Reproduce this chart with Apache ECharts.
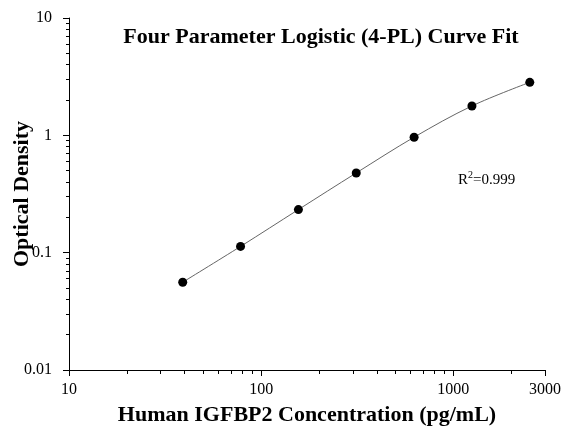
<!DOCTYPE html>
<html>
<head>
<meta charset="utf-8">
<script src="https://cdn.jsdelivr.net/npm/echarts@6/dist/echarts.min.js"></script>
<style>html,body{margin:0;padding:0;background:#fff;}#c{width:565px;height:430px;}</style>
</head>
<body>
<div id="c"></div>
<script>
var concentrations = [39.0625, 78.125, 156.25, 312.5, 625, 1250, 2500];
var opticalDensity = [0.056, 0.113, 0.233, 0.478, 0.964, 1.78, 2.83];
var xMajorTicks = [10, 100, 1000, 3000];
var xMinorTicks = [20,30,40,50,60,70,80,90,200,300,400,500,600,700,800,900,2000,3000];
var yMajorTicks = [0.01, 0.1, 1, 10];
var yMinorTicks = [0.02,0.03,0.04,0.05,0.06,0.07,0.08,0.09,0.2,0.3,0.4,0.5,0.6,0.7,0.8,0.9,2,3,4,5,6,7,8,9];
var titleText = 'Four Parameter Logistic (4-PL) Curve Fit';
var xName = 'Human IGFBP2 Concentration (pg/mL)';
var yName = 'Optical Density';
var r2Text = '0.999';

var points = concentrations.map(function(x, i){ return [x, opticalDensity[i]]; });
var serif = '"Liberation Serif", "Times New Roman", serif';
function fmt(v){ return String(+v.toPrecision(6)); }

var chart = echarts.init(document.getElementById('c'), null, {renderer: 'canvas'});
var grid = {left: 69, top: 18, right: 20, bottom: 60, containLabel: false, outerBoundsMode: 'none'};
chart.setOption({
  animation: false,
  backgroundColor: '#fff',
  title: {
    text: titleText, left: 316, top: 21, textAlign: 'center',
    textStyle: {fontFamily: serif, fontWeight: 'bold', fontSize: 22, color: '#000'}
  },
  grid: grid,
  xAxis: [{
    type: 'log', logBase: 10, min: 10, max: 3000,
    name: xName, nameLocation: 'middle', nameGap: 34, nameMoveOverlap: false,
    nameTextStyle: {fontFamily: serif, fontWeight: 'bold', fontSize: 22, color: '#000'},
    axisLine: {show: true, onZero: false, lineStyle: {color: '#000', width: 1}},
    axisTick: {show: true, length: 6, customValues: xMajorTicks, lineStyle: {color: '#000'}},
    axisLabel: {customValues: xMajorTicks, fontFamily: serif, fontSize: 16, color: '#000', margin: 12, formatter: fmt},
    splitLine: {show: false}, minorTick: {show: false}
  }, {
    type: 'log', logBase: 10, min: 10, max: 3000, position: 'bottom',
    axisLine: {show: false},
    axisTick: {show: true, length: 4, customValues: xMinorTicks, lineStyle: {color: '#000'}},
    axisLabel: {show: false}, splitLine: {show: false}
  }],
  yAxis: [{
    type: 'log', logBase: 10, min: 0.01, max: 10,
    name: yName, nameLocation: 'middle', nameGap: 36, nameRotate: 90, nameMoveOverlap: false,
    nameTextStyle: {fontFamily: serif, fontWeight: 'bold', fontSize: 22, color: '#000'},
    axisLine: {show: true, onZero: false, lineStyle: {color: '#000', width: 1}},
    axisTick: {show: true, length: 6, customValues: yMajorTicks, lineStyle: {color: '#000'}},
    axisLabel: {customValues: yMajorTicks, fontFamily: serif, fontSize: 16, color: '#000', margin: 17, formatter: fmt},
    splitLine: {show: false}, minorTick: {show: false}
  }, {
    type: 'log', logBase: 10, min: 0.01, max: 10, position: 'left',
    axisLine: {show: false},
    axisTick: {show: true, length: 3, customValues: yMinorTicks, lineStyle: {color: '#000'}},
    axisLabel: {show: false}, splitLine: {show: false}
  }],
  graphic: [{
    type: 'text', left: 458, top: 170,
    style: {
      text: '{r|R}{s|2}{r|=' + r2Text + '}',
      rich: {
        r: {fontFamily: serif, fontSize: 15, fill: '#000', verticalAlign: 'bottom'},
        s: {fontFamily: serif, fontSize: 10, fill: '#000', verticalAlign: 'top', padding: [0,0,8,0]}
      }
    }
  }],
  series: [{
    type: 'line', data: points, smooth: 0.35, symbol: 'none', z: 1,
    lineStyle: {color: '#666', width: 1}
  }, {
    type: 'scatter', data: points, symbol: 'circle', symbolSize: 9, z: 3,
    itemStyle: {color: '#000', opacity: 1}
  }]
});
</script>
</body>
</html>
